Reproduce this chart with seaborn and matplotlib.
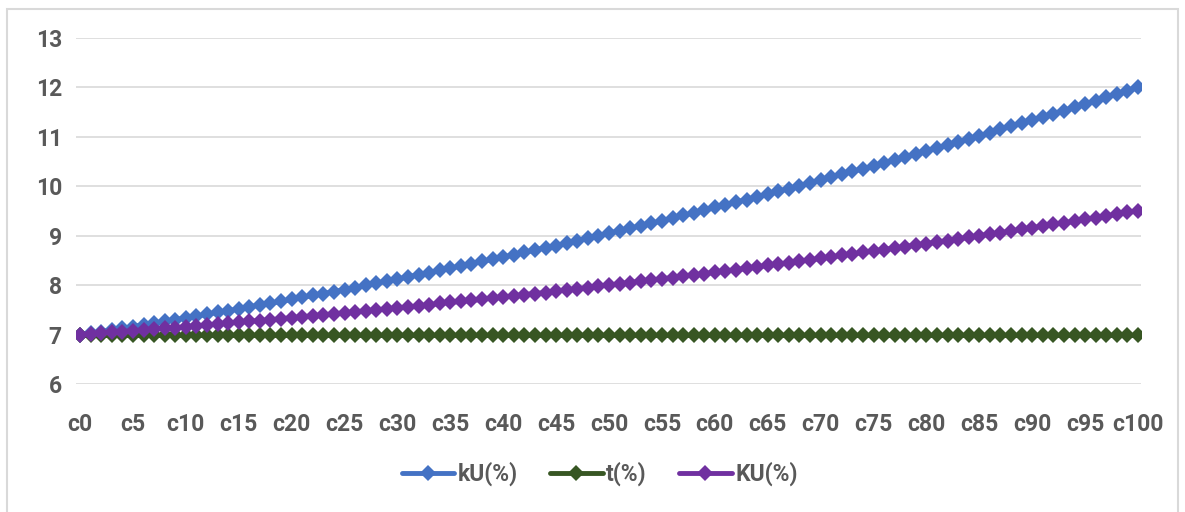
import pandas as pd
import seaborn as sns
import matplotlib.pyplot as plt
from matplotlib.patches import Rectangle

sns.set_theme(style="white")
plt.rcParams['font.family'] = ['Roboto', 'DejaVu Sans']

# categories c0 .. c100
cats = ["c" + str(i) for i in range(101)]

kU = [7.00, 7.03, 7.06, 7.10, 7.13, 7.16, 7.20, 7.23, 7.27, 7.30,
      7.34, 7.37, 7.41, 7.45, 7.48, 7.52, 7.56, 7.60, 7.63, 7.67,
      7.71, 7.75, 7.79, 7.83, 7.87, 7.91, 7.95, 8.00, 8.04, 8.08,
      8.12, 8.17, 8.21, 8.25, 8.30, 8.34, 8.39, 8.43, 8.48, 8.52,
      8.57, 8.61, 8.66, 8.71, 8.76, 8.80, 8.85, 8.90, 8.95, 9.00,
      9.05, 9.10, 9.15, 9.20, 9.25, 9.30, 9.36, 9.41, 9.46, 9.51,
      9.57, 9.62, 9.68, 9.73, 9.79, 9.84, 9.90, 9.95, 10.01, 10.07,
      10.12, 10.18, 10.24, 10.30, 10.35, 10.41, 10.47, 10.53, 10.59, 10.65,
      10.71, 10.77, 10.83, 10.90, 10.96, 11.02, 11.08, 11.15, 11.21, 11.27,
      11.34, 11.40, 11.47, 11.53, 11.60, 11.66, 11.73, 11.80, 11.86, 11.93,
      12.00]

t = [7.0] * 101

KU = [7.00, 7.02, 7.03, 7.05, 7.06, 7.08, 7.09, 7.11, 7.13, 7.14,
      7.16, 7.18, 7.19, 7.21, 7.23, 7.25, 7.27, 7.28, 7.30, 7.32,
      7.34, 7.36, 7.38, 7.40, 7.42, 7.44, 7.46, 7.48, 7.50, 7.52,
      7.54, 7.56, 7.58, 7.60, 7.63, 7.65, 7.67, 7.69, 7.71, 7.74,
      7.76, 7.78, 7.81, 7.83, 7.85, 7.88, 7.90, 7.93, 7.95, 7.98,
      8.00, 8.03, 8.05, 8.08, 8.10, 8.13, 8.15, 8.18, 8.21, 8.23,
      8.26, 8.29, 8.31, 8.34, 8.37, 8.40, 8.43, 8.45, 8.48, 8.51,
      8.54, 8.57, 8.60, 8.63, 8.66, 8.69, 8.72, 8.75, 8.78, 8.81,
      8.84, 8.87, 8.90, 8.93, 8.97, 9.00, 9.03, 9.06, 9.09, 9.13,
      9.16, 9.19, 9.23, 9.26, 9.29, 9.33, 9.36, 9.40, 9.43, 9.47,
      9.50]

series = {"kU(%)": kU, "t(%)": t, "KU(%)": KU}
colors = {"kU(%)": "#4472C4", "t(%)": "#375623", "KU(%)": "#7030A0"}

fig = plt.figure(figsize=(11.85, 5.12), dpi=100)
ax = fig.add_axes([0.064, 0.25, 0.899, 0.676])

for name, vals in series.items():
    df = pd.DataFrame({"cat": cats, "val": vals})
    sns.lineplot(data=df, x="cat", y="val", ax=ax, color=colors[name],
                 linewidth=3.5, marker="D", markersize=8.5, markeredgewidth=0,
                 label=name, sort=False)

ax.set_xlim(-0.4, 100.3)
ax.set_ylim(6, 13)
ax.set_yticks(range(6, 14))
ax.set_xticks(range(0, 101, 5))
ax.set_xticklabels(cats[::5])
ax.set_xlabel("")
ax.set_ylabel("")
ax.grid(axis="y", color="#D9D9D9", linewidth=1.2)
ax.set_axisbelow(True)
for s in ax.spines.values():
    s.set_visible(False)
ax.tick_params(axis="both", length=0, labelsize=16.5, labelcolor="#595959")
ax.tick_params(axis="x", pad=21)
ax.tick_params(axis="y", pad=10)
for lbl in ax.get_xticklabels() + ax.get_yticklabels():
    lbl.set_fontweight("bold")

leg = ax.legend(loc="center", bbox_to_anchor=(0.506, 0.074),
                bbox_transform=fig.transFigure, ncol=3, frameon=False,
                handlelength=2.3, columnspacing=1.4, handletextpad=0.15,
                prop={"size": 16.5, "weight": "bold"})
for txt in leg.get_texts():
    txt.set_color("#595959")

# outer chart border
fig.patches.append(Rectangle((7 / 1185, -0.01), 1171 / 1185, 0.992,
                             transform=fig.transFigure, fill=False,
                             edgecolor="#D9D9D9", linewidth=1.5))

fig.savefig("out.png", dpi=100)
